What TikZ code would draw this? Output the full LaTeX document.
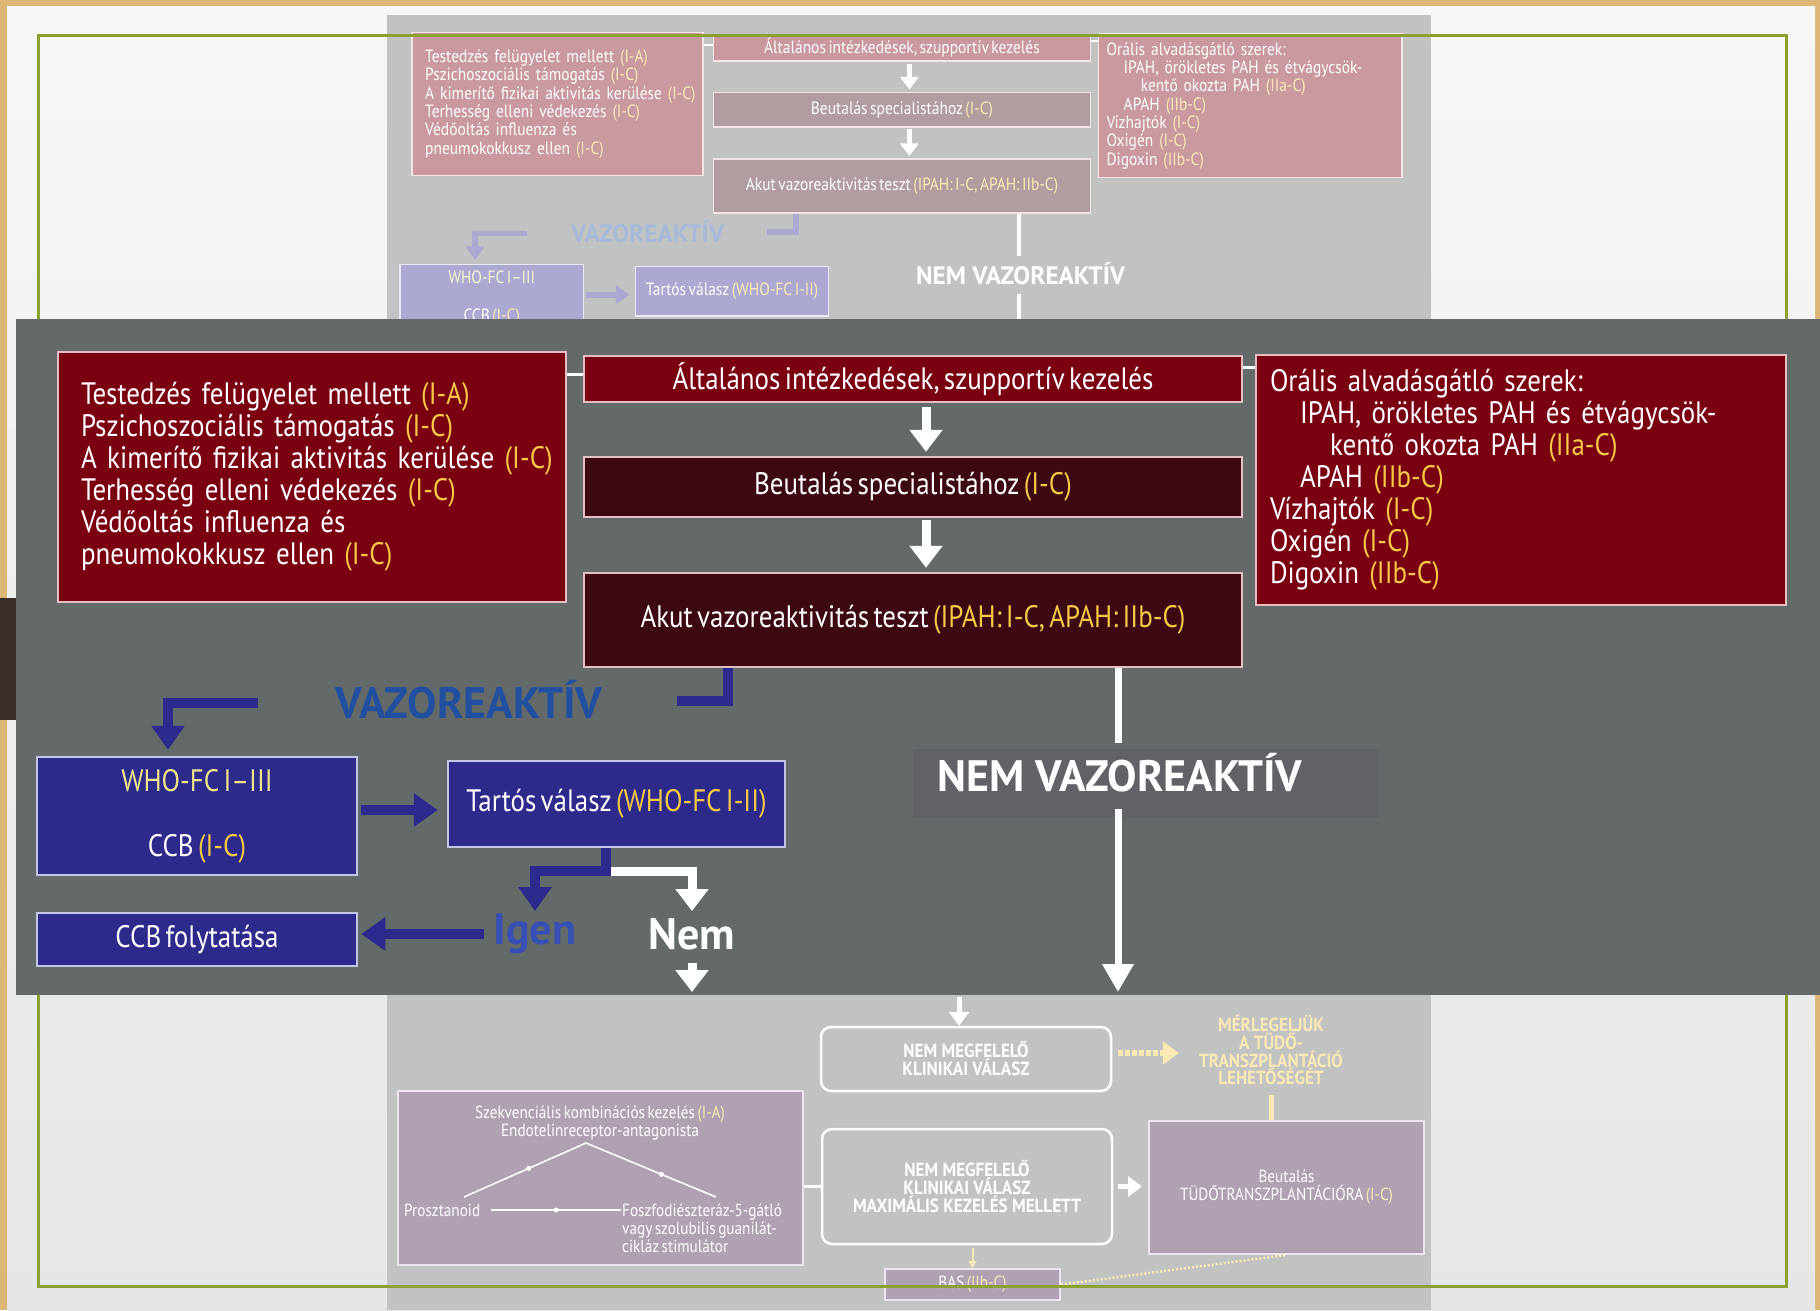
\documentclass[tikz,border=0pt]{standalone}
\usepackage{fontspec}
\setmainfont{PT Sans}[FakeStretch=0.87, WordSpace=0.6]
\newfontfamily\widef{PT Sans}
\newfontfamily\capf{PT Sans}[FakeStretch=0.9]
\usetikzlibrary{arrows.meta}
\definecolor{tanc}{HTML}{DDB676}
\definecolor{bgtop}{HTML}{F7F7F7}
\definecolor{bgbot}{HTML}{E6E6E6}
\definecolor{stripbg}{HTML}{64696A}
\definecolor{redf}{HTML}{7A0011}
\definecolor{darkf}{HTML}{3C0812}
\definecolor{bord}{HTML}{E3BFC4}
\definecolor{indf}{HTML}{2E2A8C}
\definecolor{iborder}{HTML}{C6C4E6}
\definecolor{indl}{HTML}{2C2A8C}
\definecolor{vazblue}{HTML}{2150A0}
\definecolor{igblue}{HTML}{3650B5}
\definecolor{yel}{HTML}{F4C945}
\definecolor{yel2}{HTML}{EDE38B}
\definecolor{nembgc}{HTML}{616167}
\definecolor{greenf}{HTML}{8AA12F}
\definecolor{brownc}{HTML}{3A2F28}
\definecolor{purf}{HTML}{3A1540}
\definecolor{pbord}{HTML}{D0C0D8}
\newcommand\Y[1]{\textcolor{yel}{#1}}
\newcommand\mainsz{\fontsize{31}{32}\selectfont}
\newcommand\vazf{\widef\bfseries\fontsize{44}{48}\selectfont}
\newcommand\nvf{\widef\bfseries\fontsize{44}{48}\selectfont}
\newcommand\ignf{\widef\bfseries\fontsize{44}{48}\selectfont}
\newcommand\fsmall{\fontsize{17.5}{18}\selectfont}
\newcommand\fcap{\capf\bfseries\fontsize{19}{18}\selectfont}
\newcommand\fmer{\capf\bfseries\fontsize{19}{17.7}\selectfont}
\newcommand\flowtop{%
  \node[redbox, minimum width=508pt, minimum height=250pt, text width=462pt, align=left] (lbox) at (312,477)
    {\mbox{Testedzés felügyelet mellett \Y{(I-A)}}\\\mbox{Pszichoszociális támogatás \Y{(I-C)}}\\\mbox{A kimerítő fizikai aktivitás kerülése \Y{(I-C)}}\\\mbox{Terhesség elleni védekezés \Y{(I-C)}}\\\mbox{Védőoltás influenza és}\\\mbox{pneumokokkusz ellen \Y{(I-C)}}};
  \node[redbox, minimum width=658pt, minimum height=46pt] (gen) at (913,379) {Általános intézkedések, szupportív kezelés};
  \node[darkbox, minimum width=658pt, minimum height=60pt] (beut) at (913,487) {Beutalás specialistához \Y{(I-C)}};
  \node[darkbox, minimum width=658pt, minimum height=94pt] (akut) at (913,620) {Akut vazoreaktivitás teszt \Y{(IPAH: I-C, APAH: IIb-C)}};
  \node[redbox, minimum width=530pt, minimum height=250pt, text width=502pt, align=left] (rbox) at (1521,480)
    {\mbox{Orális alvadásgátló szerek:}\\\mbox{\hspace*{30pt}IPAH, örökletes PAH és étvágycsök-}\\\mbox{\hspace*{60pt}kentő okozta PAH \Y{(IIa-C)}}\\\mbox{\hspace*{30pt}APAH \Y{(IIb-C)}}\\\mbox{Vízhajtók \Y{(I-C)}}\\\mbox{Oxigén \Y{(I-C)}}\\\mbox{Digoxin \Y{(IIb-C)}}};
  \draw[stub] ([yshift=5pt]gen.west) -- ([yshift=5pt]gen.west -| lbox.east);
  \draw[stub] ([yshift=12pt]gen.east) -- ([yshift=12pt]gen.east -| rbox.west);
  \draw[warrow, shorten <=4pt, shorten >=4pt] ([xshift=13pt]gen.south) -- ([xshift=13pt]beut.north);
  \draw[warrow, shorten <=2pt, shorten >=4pt] ([xshift=13pt]beut.south) -- ([xshift=13pt]akut.north);
  \node[font=\vazf, text=vazblue] (vaz) at (469,700) {VAZOREAKTÍV};
  \node[indbox, minimum width=320pt, minimum height=118pt, align=center] (who) at (197,816) {\textcolor{yel2}{WHO-FC I–III}\\[33pt]CCB \Y{(I-C)}};
  \node[indbox, minimum width=337pt, minimum height=86pt] (tar) at (616.5,804) {Tartós válasz \Y{(WHO-FC I-II)}};
  \node[font=\nvf, text=white] (nemv) at (1120,773) {NEM VAZOREAKTÍV};
  \coordinate (hk) at (728,701);
  \coordinate (hk2) at (677,701);
  \draw[iline] (akut.south -| hk) -- (hk) -- (hk2);
  \coordinate (la) at (258,703);
  \coordinate (lb) at (168,703);
  \draw[iarrow, shorten >=6pt] (la) -- (lb) -- (lb |- who.north);
  \draw[iarrow, shorten <=3pt, shorten >=9pt] ([yshift=-6pt]tar.west -| who.east) -- ([yshift=-6pt]tar.west);
  \coordinate (n1) at (1118,743);
  \coordinate (n2) at (1118,809);
  \coordinate (n3) at (1118,992);
  \draw[wline] (akut.south -| n1) -- (n1);
  \draw[wlong] (n2) -- (n3);
}
\newcommand\flowlow{%
  \node[indbox, minimum width=320pt, minimum height=53pt] (ccb) at (197,939.5) {CCB folytatása};
  \node[font=\ignf, text=igblue] (igen) at (535,934) {Igen};
  \node[font=\ignf, text=white] (nem) at (692,934) {Nem};
  \coordinate (tb) at (606,871);
  \coordinate (ie) at (535,911);
  \coordinate (ne) at (692,911);
  \coordinate (nemend) at (692,992);
  \draw[warrow] (tb) -| (ne);
  \draw[iarrow] (tar.south -| tb) -- (tb) -| (ie);
  \draw[warrow, shorten <=10pt] (nem.south) -- (nemend);
  \draw[iarrow, shorten <=6pt, shorten >=3pt] (igen.west) -- (igen.west -| ccb.east);
}
\begin{document}
\begin{tikzpicture}[x=1pt,y=-1pt,
  box/.style={line width=2.5pt, text=white, inner sep=0pt, font=\mainsz},
  redbox/.style={box, draw=bord, fill=redf},
  darkbox/.style={box, draw=bord, fill=darkf},
  indbox/.style={box, draw=iborder, fill=indf},
  warrow/.style={draw=white, line width=9pt, -{Triangle[width=32pt,length=22pt]}},
  wline/.style={draw=white, line width=7pt},
  wlong/.style={draw=white, line width=7pt, -{Triangle[width=30pt,length=28pt]}},
  iline/.style={draw=indl, line width=10pt},
  iarrow/.style={iline, -{Triangle[width=32pt,length=24pt]}},
  stub/.style={draw=white, line width=3pt},
  fbox/.style={draw=white, line width=2.5pt, rounded corners=10pt, text=white, inner sep=0pt, align=center, font=\fcap},
  pbox/.style={draw=pbord, line width=2pt, fill=purf, text=white, inner sep=0pt, align=center, font=\fsmall},
  ftext/.style={text=white, inner sep=1pt, font=\fsmall},
  fthin/.style={draw=white, line width=1.6pt},
  fdot/.style={circle, fill=white, inner sep=0pt, minimum size=5pt},
  fwarrow/.style={draw=white, line width=5pt, -{Triangle[width=20pt,length=14pt]}},
  ydash/.style={draw=yel, line width=6pt, dash pattern=on 5pt off 2pt, -{Triangle[width=22pt,length=16pt]}},
  yline/.style={draw=yel, line width=5pt},
  ysmall/.style={draw=yel, line width=2pt, -{Triangle[width=8pt,length=7pt]}},
  ydot/.style={draw=yel, line width=2.5pt, dash pattern=on 2pt off 2pt}
]
\useasboundingbox (0,0) rectangle (1820,1310);
% slide background
\fill[tanc] (0,0) rectangle (1820,1310);
\shade[top color=bgtop, bottom color=bgbot] (7,6) rectangle (1815,1310);
\fill[brownc] (0,598) rectangle (16,720);
% faded background flowchart panel
\fill[stripbg] (387,15) rectangle (1431,1310);
\begin{scope}[transform canvas={xshift=378.8pt, yshift=169.4pt, scale=0.573}, name prefix=m-]
  \flowtop
\end{scope}
% lower part of the faded flowchart
\node[fbox, minimum width=290pt, minimum height=64pt] (nm1) at (966,1059) {NEM MEGFELELŐ\\KLINIKAI VÁLASZ};
\coordinate (btop) at (959,997);
\draw[fwarrow] (btop) -- (btop |- nm1.north);
\node[pbox, minimum width=405pt, minimum height=174pt] (seq) at (600.5,1178) {};
\node[ftext, align=center] (seqt) at (600,1123) {Szekvenciális kombinációs kezelés \Y{(I-A)}\\Endotelinreceptor-antagonista};
\coordinate (tl) at (464,1197);
\coordinate (apx) at (586,1143);
\coordinate (tr) at (716,1197);
\draw[fthin] (tl) -- node[fdot, pos=0.53] (d1) {} (apx) -- node[fdot, pos=0.58] (d2) {} (tr);
\node[ftext, anchor=west] (pro) at (403,1210) {Prosztanoid};
\node[ftext, anchor=west, align=left] (fos) at (621,1228.5) {Foszfodiészteráz-5-gátló\\vagy szolubilis guanilát-\\cikláz stimulátor};
\draw[fthin] ([xshift=10pt]pro.east) -- node[fdot] (d3) {} (pro.east -| fos.west);
\node[fbox, minimum width=290pt, minimum height=115pt] (nm2) at (967,1186.5) {NEM MEGFELELŐ\\KLINIKAI VÁLASZ\\MAXIMÁLIS KEZELÉS MELLETT};
\draw[stub] (seq.east |- nm2.west) -- (nm2.west);
\node[pbox, minimum width=275pt, minimum height=133pt] (tx) at (1286.5,1187.5) {Beutalás\\TÜDŐTRANSZPLANTÁCIÓRA \Y{(I-C)}};
\draw[fwarrow, shorten <=5pt, shorten >=6pt] (nm2.east) -- (nm2.east -| tx.west);
\node[font=\fmer, text=yel, align=center, inner sep=2pt] (mer) at (1271,1050) {MÉRLEGELJÜK\\A TÜDŐ-\\TRANSZPLANTÁCIÓ\\LEHETŐSÉGÉT};
\draw[ydash, shorten <=6pt, shorten >=18pt] ([yshift=6pt]nm1.east) -- ([yshift=6pt]nm1.east -| mer.west);
\draw[yline, shorten <=8pt] (mer.south) -- (mer.south |- tx.north);
\node[pbox, minimum width=175pt, minimum height=31pt] (bas) at (972.5,1284.5) {BAS \Y{(IIb-C)}};
\draw[ysmall, shorten <=3pt] (nm2.south -| bas.north) -- (bas.north);
\draw[ydot] (bas.east) -- (tx.south);
% fading veil
\fill[white, opacity=0.6] (387,15) rectangle (1431,1310);
% green frame
\draw[greenf, line width=3pt] (38,35) rectangle (1786,1286);
% zoomed strip
\fill[stripbg] (16,319) rectangle (1820,995);
\node[fill=nembgc, minimum width=466pt, minimum height=69pt, inner sep=0pt] (nembg) at (1146,783.5) {};
\flowtop
\flowlow
\end{tikzpicture}
\end{document}
